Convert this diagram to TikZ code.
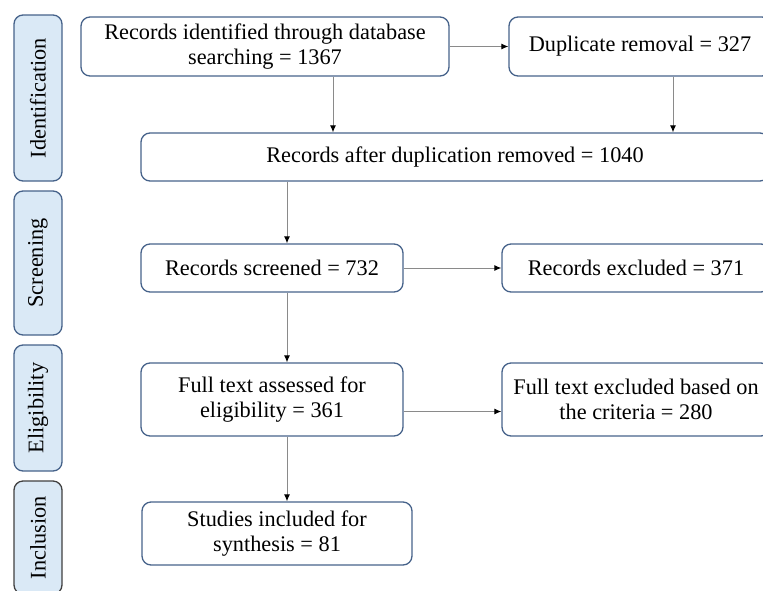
\documentclass[tikz,border=0pt]{standalone}
\usepackage{fontspec}
\setmainfont{Liberation Serif}
\usetikzlibrary{arrows.meta}
\definecolor{boxline}{HTML}{46628A}
\definecolor{barfill}{HTML}{DAE9F6}
\definecolor{arrline}{HTML}{8A8A8A}
\begin{document}
\begin{tikzpicture}[x=1pt,y=-1pt,
    box/.style={draw=boxline,line width=1.3pt,rounded corners=9pt,align=center,inner sep=0pt,
      font=\fontsize{22.3}{25}\selectfont},
    bar/.style={box,fill=barfill,rotate=90,minimum height=48pt},
    arr/.style={draw=arrline,line width=1pt,-{Latex[black,length=7pt,width=6pt]}}]
  \clip (0,0) rectangle (763,590);
  \foreach \n/\y/\l/\c in {Identification/98/166/boxline,Screening/263/144/boxline,
      Eligibility/408/126/boxline,Inclusion/537.5/113/black!75}{
    \node[bar,draw=\c,minimum width=\l pt] (\n) at (38,\y) {\n};
  }
  \node[box,minimum width=368pt,minimum height=59pt] (ident) at (265,46.5)
    {Records identified through database\\searching = 1367};
  \node[box,minimum width=262pt,minimum height=59pt] (dup) at (640,46.5)
    {Duplicate removal = 327};
  \node[box,minimum width=628pt,minimum height=48pt] (after) at (455,157)
    {Records after duplication removed = 1040};
  \node[box,minimum width=262pt,minimum height=48pt] (screened) at (272,268)
    {Records screened = 732};
  \node[box,minimum width=268pt,minimum height=48pt] (excl) at (636,268)
    {Records excluded = 371};
  \node[box,minimum width=262pt,minimum height=73pt] (full) at (272,399.5)
    {Full text assessed for\\eligibility = 361};
  \node[box,minimum width=268pt,minimum height=73pt] (fullexcl) at (636,399.5)
    {Full text excluded based on\\the criteria = 280};
  \node[box,minimum width=270pt,minimum height=63pt] (incl) at (277,533.5)
    {Studies included for\\synthesis = 81};
  % connectors
  \draw[arr] (ident) -- (dup);
  \draw[arr] ([xshift=68pt]ident.south) -- ([xshift=68pt]ident.south |- after.north);
  \draw[arr] ([xshift=33pt]dup.south) -- ([xshift=33pt]dup.south |- after.north);
  \draw[arr] ([xshift=15pt]screened.north |- after.south) -- ([xshift=15pt]screened.north);
  \draw[arr] (screened) -- (excl);
  \draw[arr] ([xshift=15pt]screened.south) -- ([xshift=15pt]full.north);
  \draw[arr] ([yshift=-12pt]full.east) -- ([yshift=-12pt]full.east -| fullexcl.west);
  \draw[arr] ([xshift=15pt]full.south) -- ([xshift=15pt]full.south |- incl.north);
\end{tikzpicture}
\end{document}
